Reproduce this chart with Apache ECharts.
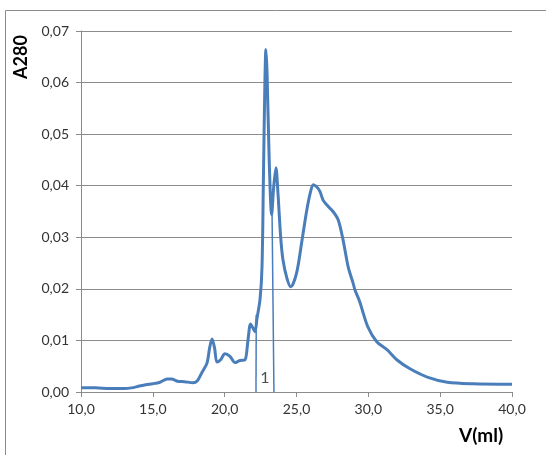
<!DOCTYPE html>
<html>
<head>
<meta charset="utf-8">
<script src="https://cdn.jsdelivr.net/npm/echarts@6/dist/echarts.min.js"></script>
<style>
  html, body { margin: 0; padding: 0; background: #fff; }
  #chart { width: 546px; height: 455px; }
</style>
</head>
<body>
<div id="chart"></div>
<script>
// elution volume (ml) and absorbance at 280 nm
const vol = [10.0, 11.0, 12.0, 13.0, 13.5, 14.0, 14.5, 15.0, 15.5, 16.0, 16.3, 16.7, 17.2, 17.8,
  18.1, 18.4, 18.77, 18.95, 19.12, 19.3, 19.46, 19.7, 20.02, 20.37, 20.72, 21.06, 21.41, 21.62,
  21.8, 21.95, 22.11, 22.25, 22.46, 22.6, 22.7, 22.8, 22.87, 22.95, 23.1, 23.27, 23.42, 23.57,
  23.7, 23.9, 24.06, 24.34, 24.6, 25.0, 25.36, 25.7, 25.95, 26.17, 26.4, 26.63, 26.85, 27.1,
  27.54, 27.9, 28.24, 28.6, 28.93, 29.07, 29.4, 29.97, 30.6, 31.3, 32.0, 32.9, 34.1, 35.5, 37.3, 40.0];
const a280 = [0.0008, 0.0008, 0.0007, 0.0007, 0.0008, 0.0011, 0.0014, 0.0016, 0.0019, 0.0025, 0.0025, 0.0021, 0.0020, 0.0018,
  0.0022, 0.0037, 0.0056, 0.0085, 0.0103, 0.0085, 0.0058, 0.0062, 0.0074, 0.0069, 0.0057, 0.0061, 0.0062, 0.0100,
  0.0132, 0.0125, 0.0117, 0.0143, 0.0179, 0.0243, 0.0420, 0.0600, 0.0664, 0.0620, 0.0450, 0.0344, 0.0400, 0.0435,
  0.0390, 0.0300, 0.0256, 0.0220, 0.0204, 0.0230, 0.0290, 0.0350, 0.0385, 0.0402, 0.0398, 0.0389, 0.0372, 0.0363,
  0.0350, 0.0334, 0.0295, 0.0242, 0.0212, 0.0198, 0.0175, 0.0126, 0.0097, 0.0082, 0.0062, 0.0045, 0.0029, 0.0019, 0.0016, 0.0015];

// fraction 1 boundaries
const frac1Left = [[22.18, 0], [22.2, 0.0150]];
const frac1Right = [[23.43, 0], [23.3, 0.0344]];
const frac1Label = [[22.8, 0.0028]];

const comma = (v, d) => v.toFixed(d).replace('.', ',');

const chart = echarts.init(document.getElementById('chart'));
const blue = '#4a7ebb';
const font = 'Lato, "Open Sans", sans-serif';

chart.setOption({
  animation: false,
  grid: { left: 81, right: 34, top: 31, bottom: 63 },
  xAxis: {
    type: 'value',
    min: 10, max: 40, interval: 5,
    axisLine: { show: true, lineStyle: { color: '#8c8c8c', width: 1 } },
    axisTick: { show: true, length: 5, lineStyle: { color: '#8c8c8c' } },
    splitLine: { show: false },
    axisLabel: { formatter: v => comma(v, 1), color: '#333', fontSize: 14, fontFamily: font, margin: 10 }
  },
  yAxis: {
    type: 'value',
    min: 0, max: 0.07, interval: 0.01,
    axisLine: { show: true, lineStyle: { color: '#8c8c8c', width: 1 } },
    axisTick: { show: true, length: 5, lineStyle: { color: '#8c8c8c' } },
    splitLine: { show: true, lineStyle: { color: '#8c8c8c', width: 1 } },
    axisLabel: { formatter: v => comma(v, 2), color: '#333', fontSize: 14, fontFamily: font, margin: 12 }
  },
  graphic: [
    { type: 'rect', shape: { x: 5.5, y: 10.5, width: 700, height: 600 }, style: { fill: 'none', stroke: '#8c8c8c', lineWidth: 1 } },
    { type: 'text', x: 12, y: 79, rotation: Math.PI / 2,
      style: { text: 'A280', font: 'bold 18px ' + font, fill: '#000', textVerticalAlign: 'top' } },
    { type: 'text', x: 459, y: 426,
      style: { text: 'V(ml)', font: 'bold 19px ' + font, fill: '#000' } }
  ],
  series: [
    {
      type: 'line',
      data: vol.map((v, i) => [v, a280[i]]),
      smooth: 0.3,
      showSymbol: false,
      lineStyle: { color: blue, width: 3 },
      z: 3
    },
    {
      type: 'line', data: frac1Left, showSymbol: false,
      lineStyle: { color: blue, width: 1.5 }, z: 2
    },
    {
      type: 'line', data: frac1Right, showSymbol: false,
      lineStyle: { color: blue, width: 1.5 }, z: 2
    },
    {
      type: 'scatter', data: frac1Label, symbolSize: 0,
      label: { show: true, formatter: '1', position: 'inside', color: '#222', fontSize: 16, fontFamily: font }
    }
  ]
});
</script>
</body>
</html>
